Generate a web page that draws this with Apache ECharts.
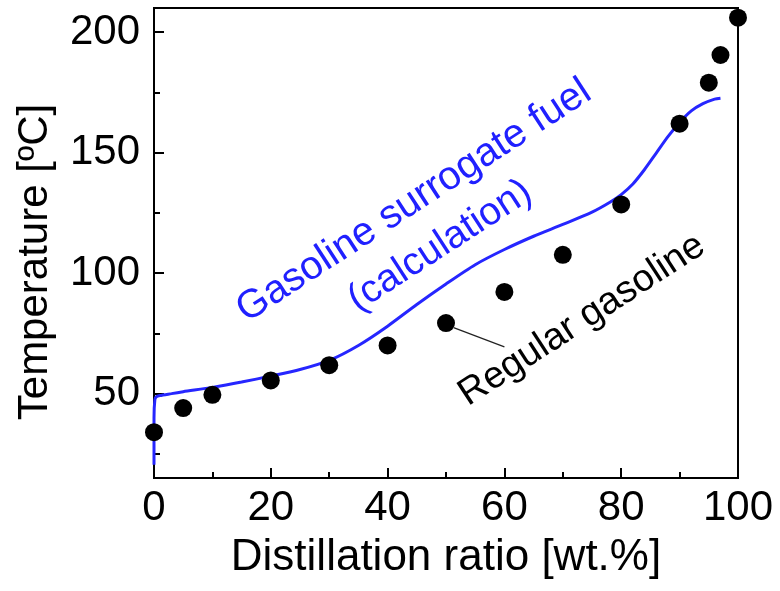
<!DOCTYPE html>
<html>
<head>
<meta charset="utf-8">
<script src="https://cdn.jsdelivr.net/npm/echarts@6/dist/echarts.min.js"></script>
<style>
  html, body { margin: 0; padding: 0; background: #fff; }
  #chart { width: 780px; height: 591px; }
</style>
</head>
<body>
<div id="chart"></div>
<script>
// Measured distillation curve of regular gasoline (dots)
const gasolineX = [0, 5, 10, 20, 30, 40, 50, 60, 70, 80, 90, 95, 97, 100];
const gasolineY = [34, 44, 49.5, 55.5, 61.8, 70, 79.3, 92.2, 107.6, 128.5, 162, 179, 190.5, 206];

// Calculated distillation curve of the surrogate fuel (blue line)
const surrogateX = [0, 0, 0.15, 0.4, 1, 3, 5, 10, 15, 20, 25, 30, 35, 40, 45, 50, 55, 60, 65, 70, 75, 78, 80, 82, 84, 86, 88, 90, 92, 94, 96, 97];
const surrogateY = [20.5, 40, 47.5, 48.7, 49.2, 50, 50.8, 52.6, 54.8, 57.3, 60, 63.8, 70, 78, 87, 95.5, 103.5, 109.8, 115.3, 120.2, 125.3, 129.3, 132.6, 137, 143, 149.8, 156.6, 162.5, 167.3, 170.3, 172.2, 172.6];

// Axis ticks
const xMajorTicks = [0, 20, 40, 60, 80, 100];
const xMinorTicks = [10, 30, 50, 70, 90];
const yMajorTicks = [50, 100, 150, 200];
const yMinorTicks = [25, 75, 125, 175];

// Leader line from the 50 % point to its caption
const leaderX = [51.3, 60];
const leaderY = [77.4, 69.4];

const FONT = '"Liberation Sans", Arial, sans-serif';
const chart = echarts.init(document.getElementById('chart'), null, { renderer: 'canvas' });

const zip = (xs, ys) => xs.map((x, i) => [x, ys[i]]);

chart.setOption({
  backgroundColor: '#ffffff',
  animation: false,
  grid: {
    left: 154, top: 8, width: 584, height: 470,
    show: true, borderColor: '#000', borderWidth: 2, backgroundColor: 'transparent'
  },
  xAxis: [
    {
      type: 'value', min: 0, max: 100,
      axisLine: { show: true, lineStyle: { color: '#000', width: 2 } },
      axisTick: { show: true, inside: true, length: 10, lineStyle: { color: '#000', width: 2 }, customValues: xMajorTicks },
      axisLabel: { show: true, color: '#000', fontSize: 42, fontFamily: FONT, margin: 9, customValues: xMajorTicks },
      splitLine: { show: false },
      name: 'Distillation ratio [wt.%]',
      nameLocation: 'middle', nameGap: 58,
      nameTextStyle: { color: '#000', fontSize: 44, fontFamily: FONT }
    },
    {
      type: 'value', min: 0, max: 100, position: 'bottom',
      axisLine: { show: false },
      axisTick: { show: true, inside: true, length: 6, lineStyle: { color: '#000', width: 2 }, customValues: xMinorTicks },
      axisLabel: { show: false },
      splitLine: { show: false }
    }
  ],
  yAxis: [
    {
      type: 'value', min: 15, max: 210,
      axisLine: { show: true, lineStyle: { color: '#000', width: 2 } },
      axisTick: { show: true, inside: true, length: 10, lineStyle: { color: '#000', width: 2 }, customValues: yMajorTicks },
      axisLabel: { show: true, color: '#000', fontSize: 42, fontFamily: FONT, margin: 14, customValues: yMajorTicks },
      splitLine: { show: false },
      name: 'Temperature [ºC]',
      nameLocation: 'middle', nameGap: 98, nameRotate: 90,
      nameTextStyle: { color: '#000', fontSize: 42, fontFamily: FONT, padding: [0, 38, 0, 0] }
    },
    {
      type: 'value', min: 15, max: 210, position: 'left',
      axisLine: { show: false },
      axisTick: { show: true, inside: true, length: 6, lineStyle: { color: '#000', width: 2 }, customValues: yMinorTicks },
      axisLabel: { show: false },
      splitLine: { show: false }
    }
  ],
  series: [
    {
      name: 'Gasoline surrogate fuel (calculation)',
      type: 'line',
      data: zip(surrogateX, surrogateY),
      showSymbol: false,
      smooth: 0.25,
      lineStyle: { color: '#2626ff', width: 3 },
      z: 2
    },
    {
      name: 'leader',
      type: 'line',
      data: zip(leaderX, leaderY),
      showSymbol: false,
      lineStyle: { color: '#222', width: 1.2 },
      z: 3
    },
    {
      name: 'Regular gasoline',
      type: 'scatter',
      data: zip(gasolineX, gasolineY),
      symbol: 'circle',
      symbolSize: 18,
      itemStyle: { color: '#000', opacity: 1 },
      z: 4
    }
  ],
  graphic: [
    {
      type: 'text', x: 414, y: 201, rotation: 33 * Math.PI / 180,
      style: { text: 'Gasoline surrogate fuel', fill: '#2020ff', fontSize: 40, fontFamily: FONT, align: 'center', verticalAlign: 'middle' }
    },
    {
      type: 'text', x: 440, y: 246, rotation: 33 * Math.PI / 180,
      style: { text: '(calculation)', fill: '#2020ff', fontSize: 39, fontFamily: FONT, align: 'center', verticalAlign: 'middle' }
    },
    {
      type: 'text', x: 582, y: 320, rotation: 33 * Math.PI / 180,
      style: { text: 'Regular gasoline', fill: '#000', fontSize: 38, fontFamily: FONT, align: 'center', verticalAlign: 'middle' }
    }
  ]
});
</script>
</body>
</html>
